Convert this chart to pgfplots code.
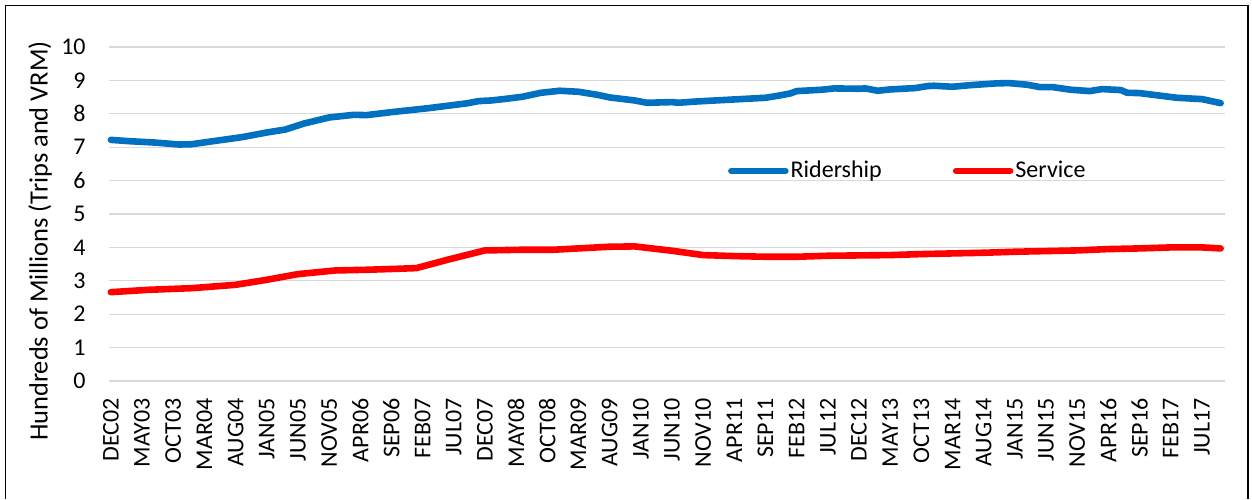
\documentclass[border=0pt]{standalone}
\usepackage{fontspec}
\setmainfont{Carlito}
\usepackage{pgfplots}
\pgfplotsset{compat=1.18}
\definecolor{rblue}{HTML}{0070C0}
\definecolor{rred}{HTML}{FF0000}
\definecolor{gridgray}{HTML}{D9D9D9}
\begin{document}
\begin{tikzpicture}
\begin{axis}[
  scale only axis, width=558pt, height=167pt,
  xmin=-0.3, xmax=178.7, ymin=0, ymax=10,
  axis line style={draw=none},
  ytick={0,1,...,10},
  ymajorgrids, grid style={gridgray, line width=0.65pt},
  major tick length=0pt,
  xtick={0,5,...,175},
  xticklabels={DEC02,MAY03,OCT03,MAR04,AUG04,JAN05,JUN05,NOV05,APR06,SEP06,FEB07,JUL07,DEC07,MAY08,OCT08,MAR09,AUG09,JAN10,JUN10,NOV10,APR11,SEP11,FEB12,JUL12,DEC12,MAY13,OCT13,MAR14,AUG14,JAN15,JUN15,NOV15,APR16,SEP16,FEB17,JUL17},
  ticklabel style={font=\fontsize{12}{14}\selectfont, inner sep=0pt},
  xticklabel style={rotate=90, anchor=east},
  xticklabel shift=8.5pt,
  yticklabel shift=11.5pt,
  /pgf/number format/assume math mode=true,
  ylabel={Hundreds of Millions (Trips and VRM)},
  ylabel style={at={(axis description cs:-0.0618,0.419)}, anchor=center, font=\fontsize{13.2}{15}\selectfont},
  clip=false,
  legend columns=2,
  legend style={at={(0.549,0.629)}, anchor=west, draw=none, fill=none,
    font=\fontsize{12}{14}\selectfont,
    /tikz/every even column/.append style={column sep=34.5pt},
    nodes={inner sep=1pt}},
  legend image code/.code={\draw[#1, line cap=round] (0pt,0pt) -- (27pt,0pt);},
]
\addplot[rblue, line width=3.3pt, line cap=round, line join=round] coordinates {
(0,7.22) (3,7.18) (7,7.14) (11,7.08) (13,7.09) (16,7.17) (21,7.30) (25,7.44) (28,7.53) (31,7.71) (35,7.89) (39,7.97) (41,7.96) (45,8.05) (47,8.09) (51,8.17) (54,8.24) (57,8.31) (59,8.38) (61,8.40) (63,8.44) (66,8.51) (69,8.63) (72,8.69) (75,8.66) (78,8.57) (80,8.49) (84,8.40) (86,8.33) (90,8.35) (91,8.33) (94,8.37) (99,8.42) (102,8.45) (105,8.48) (107,8.54) (109,8.61) (110,8.68) (114,8.72) (116,8.76) (120,8.75) (121,8.76) (123,8.69) (125,8.73) (129,8.77) (131,8.83) (132,8.84) (135,8.81) (138,8.86) (142,8.91) (144,8.92) (147,8.87) (149,8.80) (151,8.80) (154,8.72) (157,8.68) (159,8.74) (162,8.71) (163,8.63) (165,8.62) (168,8.55) (171,8.48) (175,8.44) (176,8.40) (178,8.32)
};
\addlegendentry{Ridership}
\addplot[rred, line width=3.3pt, line cap=round, line join=round] coordinates {
(0,2.66) (6,2.73) (13,2.78) (20,2.88) (25,3.03) (30,3.20) (36,3.31) (41,3.33) (46,3.36) (49,3.38) (54,3.63) (60,3.91) (66,3.93) (71,3.93) (75,3.97) (80,4.02) (84,4.03) (90,3.90) (95,3.77) (100,3.74) (105,3.72) (110,3.72) (115,3.75) (120,3.76) (125,3.77) (130,3.80) (135,3.82) (140,3.84) (145,3.87) (150,3.89) (155,3.91) (160,3.95) (165,3.97) (170,4.00) (175,4.00) (178,3.97)
};
\addlegendentry{Service}
\end{axis}
\draw[line width=0.65pt] (-51.75pt,-59pt) -- (-51.75pt,187.75pt) -- (569.5pt,187.75pt) -- (569.5pt,-59pt);
\pgfresetboundingbox
\useasboundingbox (-54.5pt,-59pt) rectangle (571.5pt,190.5pt);
\end{tikzpicture}
\end{document}
